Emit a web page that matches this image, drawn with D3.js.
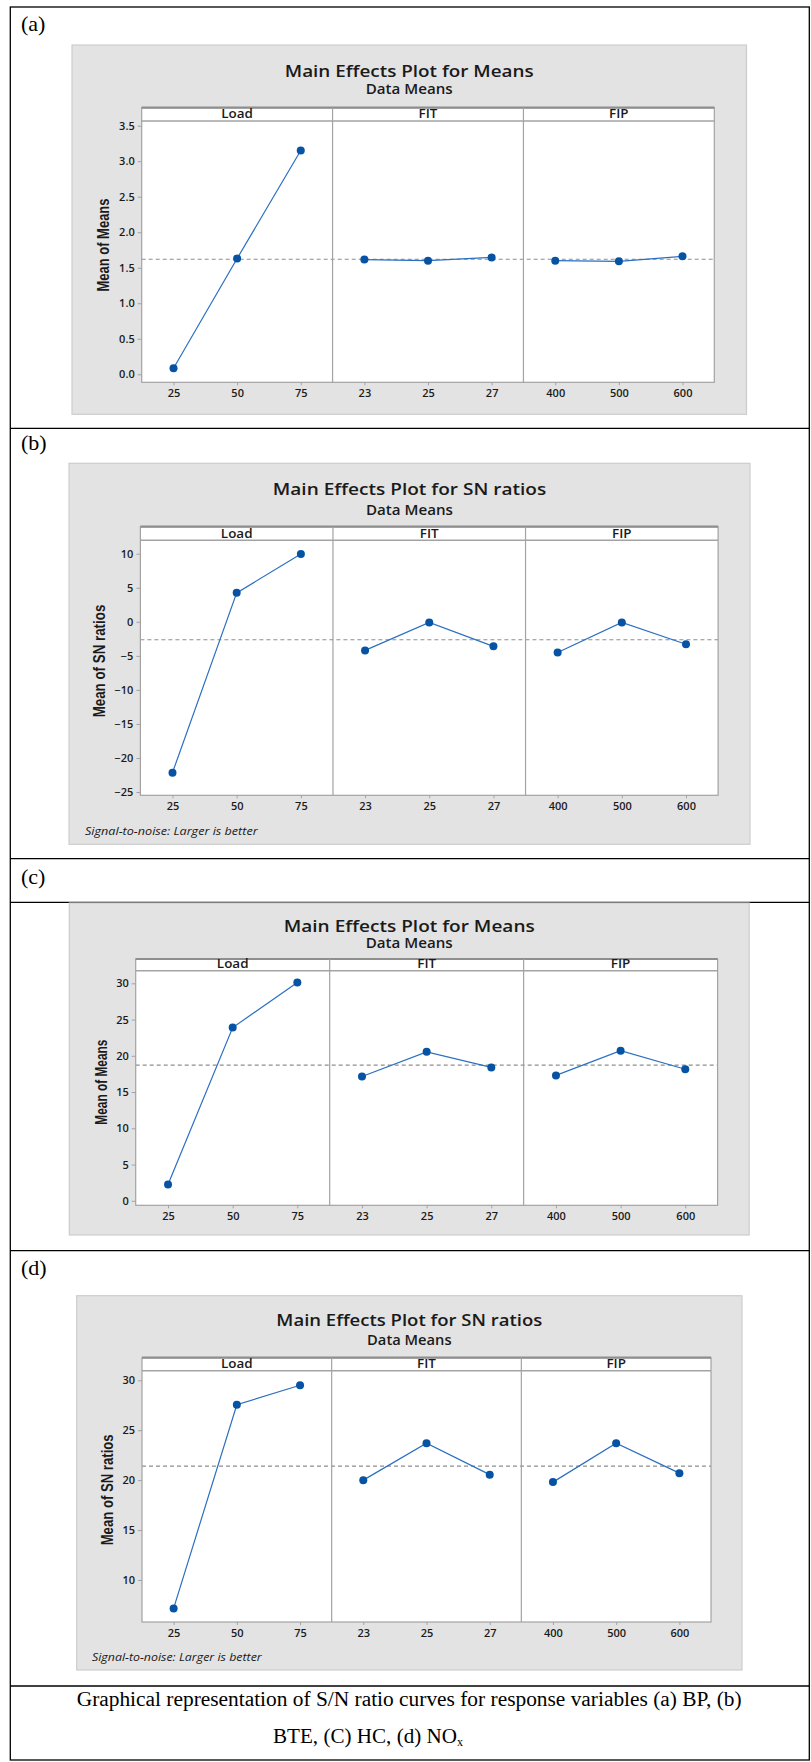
<!DOCTYPE html>
<html>
<head>
<meta charset="utf-8">
<script src="https://cdn.jsdelivr.net/npm/d3@7/dist/d3.min.js"></script>
<style>
  body { margin: 0; background: #fff; }
  svg { display: block; }
</style>
</head>
<body>
<svg id="fig" width="811" height="1762"></svg>
<script>
// ---- factors and levels shared by every main-effects plot ----
const factors = ["Load", "FIT", "FIP"];
const loadLevels = ["25", "50", "75"];
const fitLevels = ["23", "25", "27"];
const fipLevels = ["400", "500", "600"];

// (a) BP - mean of means
const bpLoad = [0.085, 1.63, 3.15];
const bpFit = [1.615, 1.60, 1.645];
const bpFip = [1.60, 1.59, 1.66];

// (b) BTE - mean of SN ratios
const bteLoad = [-22.15, 4.25, 9.95];
const bteFit = [-4.2, -0.1, -3.6];
const bteFip = [-4.5, -0.1, -3.3];

// (c) HC - mean of means
const hcLoad = [2.25, 23.9, 30.1];
const hcFit = [17.15, 20.55, 18.4];
const hcFip = [17.3, 20.7, 18.15];

// (d) NOx - mean of SN ratios
const noxLoad = [7.15, 27.55, 29.5];
const noxFit = [20.0, 23.7, 20.55];
const noxFip = [19.8, 23.7, 20.7];

// y-axis ticks
const yTicksA = [0, 0.5, 1, 1.5, 2, 2.5, 3, 3.5];
const yTicksB = [-25, -20, -15, -10, -5, 0, 5, 10];
const yTicksC = [0, 5, 10, 15, 20, 25, 30];
const yTicksD = [10, 15, 20, 25, 30];

// y-axis extents
const yDomainA = [-0.113, 3.566];
const yDomainB = [-25.48, 11.97];
const yDomainC = [-0.62, 31.74];
const yDomainD = [5.79, 30.96];

// texts
const titleMeans = "Main Effects Plot for Means";
const titleSN = "Main Effects Plot for SN ratios";
const subtitleText = "Data Means";
const yLabelMeans = "Mean of Means";
const yLabelSN = "Mean of SN ratios";
const noteSN = "Signal-to-noise: Larger is better";
const panelLabels = ["(a)", "(b)", "(c)", "(d)"];
const captionLine1 = "Graphical representation of S/N ratio curves for response variables (a) BP, (b)";
const captionLine2 = "BTE, (C) HC, (d) NO";
const captionSub = "x";

// ---- styling ----
const SANS = "'Open Sans', 'Noto Sans', sans-serif";
const ARIAL = "'Liberation Sans', Arial, sans-serif";
const SERIF = "'Liberation Serif', 'Times New Roman', serif";
const C = {
  panelBg: "#e3e3e3",
  panelEdge: "#cdcdcd",
  frame: "#a3a3a3",
  frameTop: "#8e8e8e",
  ink: "#1a1a1a",
  line: "#2a6fc2",
  dot: "#0652a3",
  mean: "#8f8f8f"
};

const svg = d3.select("#fig");

// ---- table grid around the four plots ----
const grid = svg.append("g").attr("fill", "none").attr("stroke", "#000").attr("stroke-width", 1.3);
grid.append("rect").attr("x", 10.3).attr("y", 7).attr("width", 799).attr("height", 1753);
[428.3, 858.7, 902.3, 1250.7, 1686].forEach(y =>
  grid.append("line").attr("x1", 10.3).attr("x2", 809.3).attr("y1", y).attr("y2", y));

// panel letters
const letterPos = [[21, 31], [21, 450], [21, 884], [21, 1275]];
panelLabels.forEach((t, i) => {
  svg.append("text").attr("x", letterPos[i][0]).attr("y", letterPos[i][1])
    .attr("font-family", SERIF).attr("font-size", 22).attr("fill", "#000").text(t);
});

// caption
svg.append("text").attr("x", 76.7).attr("y", 1706)
  .attr("font-family", SERIF).attr("font-size", 20).attr("fill", "#000")
  .attr("textLength", 665).attr("lengthAdjust", "spacingAndGlyphs")
  .text(captionLine1);
const cap2 = svg.append("text").attr("x", 273).attr("y", 1743.3)
  .attr("font-family", SERIF).attr("font-size", 20).attr("fill", "#000");
cap2.append("tspan").attr("textLength", 184).attr("lengthAdjust", "spacingAndGlyphs").text(captionLine2);
cap2.append("tspan").attr("font-size", 12).attr("dy", 3).text(captionSub);

// stretched text helper (the plots are slightly wider than tall)
function sText(g, x, y, str, opts) {
  const sx = opts.sx || 1;
  return g.append("text")
    .attr("transform", `translate(${x},${y}) scale(${sx},1)`)
    .attr("font-family", opts.family || SANS)
    .attr("font-size", opts.size)
    .attr("font-weight", opts.weight || null)
    .attr("text-anchor", opts.anchor || "start")
    .attr("fill", opts.fill || C.ink)
    .text(str);
}

// ---- one Minitab-style main effects plot ----
function mainEffects(cfg) {
  const g = svg.append("g");
  const b = cfg.box, f = cfg.frame;

  g.append("rect").attr("x", b.x0).attr("y", b.y0)
    .attr("width", b.x1 - b.x0).attr("height", b.y1 - b.y0)
    .attr("fill", C.panelBg).attr("stroke", C.panelEdge).attr("stroke-width", 1.2);

  const cx = (b.x0 + b.x1) / 2;
  g.append("text").attr("x", cx).attr("y", cfg.titleY).attr("text-anchor", "middle")
    .attr("font-family", SANS).attr("font-size", 17).attr("font-weight", 600).attr("fill", C.ink)
    .attr("textLength", cfg.titleLen).attr("lengthAdjust", "spacingAndGlyphs")
    .text(cfg.title);
  g.append("text").attr("x", cx).attr("y", cfg.subY).attr("text-anchor", "middle")
    .attr("font-family", SANS).attr("font-size", 13.5).attr("font-weight", 600).attr("fill", C.ink)
    .attr("textLength", cfg.subLen).attr("lengthAdjust", "spacingAndGlyphs")
    .text(subtitleText);

  // white plotting region incl. strip
  g.append("rect").attr("x", f.x0).attr("y", f.stripTop)
    .attr("width", f.x1 - f.x0).attr("height", f.bottom - f.stripTop)
    .attr("fill", "#fff");

  const y = d3.scaleLinear().domain(cfg.domain).range([f.bottom, f.stripBot]);
  const facetW = (f.x1 - f.x0) / 3;
  const levelSets = [loadLevels, fitLevels, fipLevels];
  const xs = levelSets.map((lv, i) =>
    d3.scalePoint().domain(lv).range([f.x0 + i * facetW, f.x0 + (i + 1) * facetW]).padding(0.5));

  // grand mean reference line
  const grand = d3.mean(cfg.values.flat());
  g.append("line").attr("x1", f.x0).attr("x2", f.x1)
    .attr("y1", y(grand)).attr("y2", y(grand))
    .attr("stroke", C.mean).attr("stroke-width", 1.2).attr("stroke-dasharray", "4,3");

  // frame, strips and facet separators
  const fr = g.append("g").attr("fill", "none").attr("stroke", C.frame);
  fr.append("rect").attr("x", f.x0).attr("y", f.stripTop)
    .attr("width", f.x1 - f.x0).attr("height", f.bottom - f.stripTop).attr("stroke-width", 1.2);
  fr.append("line").attr("x1", f.x0).attr("x2", f.x1).attr("y1", f.stripTop).attr("y2", f.stripTop)
    .attr("stroke", C.frameTop).attr("stroke-width", 2.2);
  fr.append("line").attr("x1", f.x0).attr("x2", f.x1).attr("y1", f.stripBot).attr("y2", f.stripBot)
    .attr("stroke-width", 1.5);
  [1, 2].forEach(i => fr.append("line")
    .attr("x1", f.x0 + i * facetW).attr("x2", f.x0 + i * facetW)
    .attr("y1", f.stripTop).attr("y2", f.bottom).attr("stroke-width", 1.2));

  factors.forEach((name, i) => {
    sText(g, f.x0 + (i + 0.5) * facetW, f.stripBot - 2.7, name,
      { size: 12, sx: 1.12, anchor: "middle", weight: 600 });
  });

  // y axis
  const yAxis = d3.axisLeft(y).tickValues(cfg.ticks).tickSize(4).tickPadding(3)
    .tickFormat(cfg.fmt);
  const ya = g.append("g").attr("transform", `translate(${f.x0},0)`).call(yAxis);
  ya.select(".domain").remove();
  ya.selectAll(".tick line").attr("stroke", C.frame);
  ya.selectAll(".tick text")
    .attr("font-family", SANS).attr("font-size", 10).attr("font-weight", 600).attr("fill", C.ink)
    .attr("x", null).attr("dy", null)
    .attr("transform", "translate(-7,3.5) scale(1.1,1)");

  // x axes, one per facet
  xs.forEach((xsc) => {
    const xa = g.append("g").attr("transform", `translate(0,${f.bottom})`)
      .call(d3.axisBottom(xsc).tickSize(3).tickPadding(4));
    xa.select(".domain").remove();
    xa.selectAll(".tick line").attr("stroke", C.frame);
    xa.selectAll(".tick text")
      .attr("font-family", SANS).attr("font-size", 10).attr("font-weight", 600).attr("fill", C.ink)
      .attr("y", null).attr("dy", null)
      .attr("transform", "translate(0,14.5) scale(1.1,1)");
  });

  // factor-level means
  const lineGen = d3.line().x(d => d[0]).y(d => d[1]);
  cfg.values.forEach((vals, i) => {
    const pts = vals.map((v, j) => [xs[i](levelSets[i][j]), y(v)]);
    g.append("path").attr("d", lineGen(pts)).attr("fill", "none")
      .attr("stroke", C.line).attr("stroke-width", 1.2);
    g.selectAll(null).data(pts).enter().append("circle")
      .attr("cx", d => d[0]).attr("cy", d => d[1]).attr("r", 4)
      .attr("fill", C.dot);
  });

  // y-axis title (rotated, glyphs widened like the rest of the plot)
  const ymid = (f.stripTop + f.bottom) / 2;
  g.append("text")
    .attr("transform", `translate(${cfg.yLabelX},${ymid}) rotate(-90) scale(1,1.28)`)
    .attr("text-anchor", "middle").attr("dy", "0.35em")
    .attr("font-family", ARIAL).attr("font-size", 13.5).attr("font-weight", "bold").attr("fill", C.ink)
    .attr("textLength", cfg.yLabelLen).attr("lengthAdjust", "spacingAndGlyphs")
    .text(cfg.yLabel);

  if (cfg.note) {
    g.append("text").attr("x", cfg.note.x).attr("y", cfg.note.y)
      .attr("font-family", SANS).attr("font-size", 11.5).attr("font-style", "italic")
      .attr("fill", C.ink)
      .attr("textLength", cfg.note.len).attr("lengthAdjust", "spacingAndGlyphs")
      .text(noteSN);
  }
}

const fmt1 = d3.format(".1f");
const fmt0 = d3.format("d");

mainEffects({
  title: titleMeans,
  box: { x0: 72, x1: 746.5, y0: 45, y1: 414.3 },
  titleY: 76.7, subY: 94.3, titleLen: 249, subLen: 87,
  frame: { x0: 141.7, x1: 714.3, stripTop: 107.7, stripBot: 121, bottom: 382.3 },
  domain: yDomainA, ticks: yTicksA, fmt: fmt1,
  yLabel: yLabelMeans, yLabelX: 102.5, yLabelLen: 93,
  values: [bpLoad, bpFit, bpFip]
});

mainEffects({
  title: titleSN,
  box: { x0: 69, x1: 750, y0: 463.3, y1: 844.3 },
  titleY: 495.3, subY: 514.5, titleLen: 273.5, subLen: 87,
  frame: { x0: 140.4, x1: 718.1, stripTop: 526.7, stripBot: 540.3, bottom: 795.3 },
  domain: yDomainB, ticks: yTicksB, fmt: fmt0,
  yLabel: yLabelSN, yLabelX: 99, yLabelLen: 112.7,
  values: [bteLoad, bteFit, bteFip],
  note: { x: 85, y: 835, len: 172.7 }
});

mainEffects({
  title: titleMeans,
  box: { x0: 69.3, x1: 749.2, y0: 903, y1: 1235 },
  titleY: 931.5, subY: 947.7, titleLen: 251, subLen: 87,
  frame: { x0: 135.7, x1: 717.6, stripTop: 959, stripBot: 970.7, bottom: 1205.3 },
  domain: yDomainC, ticks: yTicksC, fmt: fmt0,
  yLabel: yLabelMeans, yLabelX: 101, yLabelLen: 85,
  values: [hcLoad, hcFit, hcFip]
});

mainEffects({
  title: titleSN,
  box: { x0: 76.7, x1: 742, y0: 1295.7, y1: 1670 },
  titleY: 1326.3, subY: 1345.3, titleLen: 266, subLen: 84.5,
  frame: { x0: 142, x1: 711, stripTop: 1357.7, stripBot: 1370.7, bottom: 1622 },
  domain: yDomainD, ticks: yTicksD, fmt: fmt0,
  yLabel: yLabelSN, yLabelX: 106.5, yLabelLen: 111,
  values: [noxLoad, noxFit, noxFip],
  note: { x: 92, y: 1661, len: 169.7 }
});
</script>
</body>
</html>
